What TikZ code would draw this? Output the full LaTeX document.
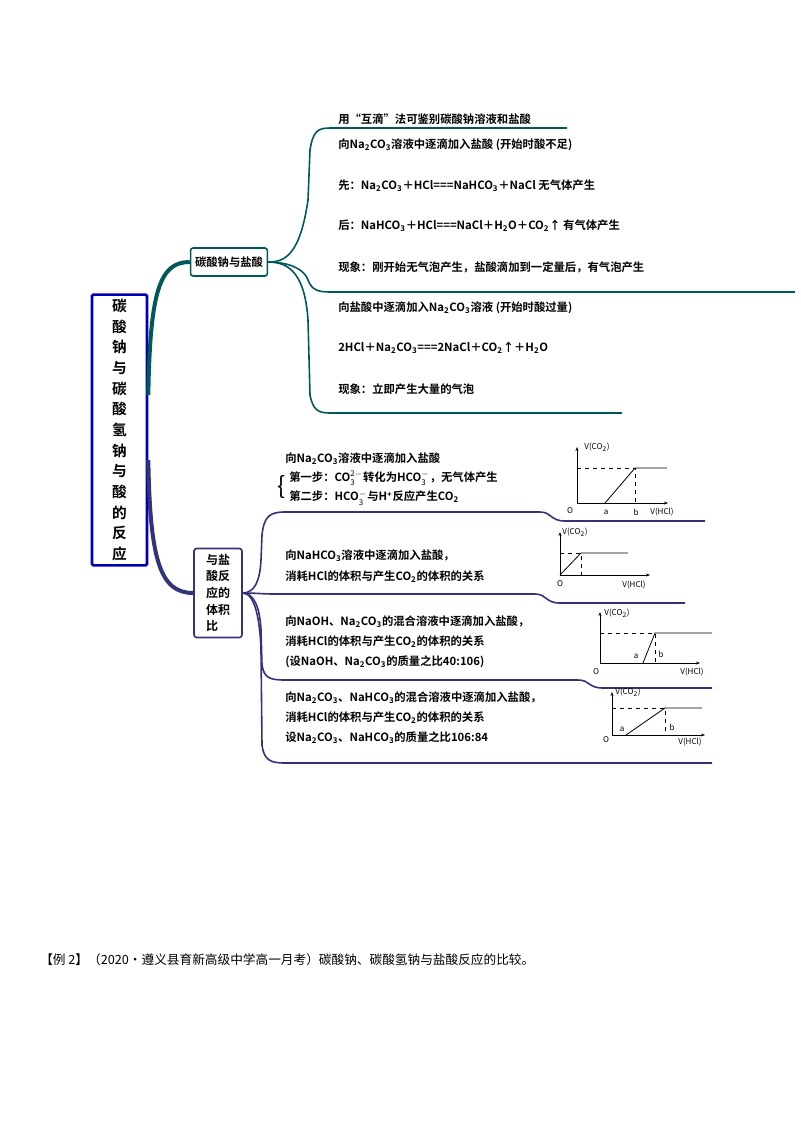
\documentclass[tikz,border=0pt]{standalone}
\usepackage{fontspec}
\setmainfont{Noto Sans CJK SC}[BoldFont={Noto Sans CJK SC Bold}]
\usetikzlibrary{arrows.meta}
\newcommand{\sbt}[1]{\textsubscript{#1}}
\newcommand{\spt}[1]{\textsuperscript{#1}}
\newcommand{\sbsp}[2]{$_{\mathrm{#1}}^{\mathrm{#2}}$}
\begin{document}
\begin{tikzpicture}[x=0.75pt,y=-0.75pt,
 txt/.style={anchor=west,font=\fontsize{8.5}{10}\selectfont\bfseries,inner sep=0pt},
 tl/.style={draw=teal!70!black,line width=1.2pt},
 bl/.style={draw=blue!35!black!80,line width=1.2pt},
 ax/.style={line width=0.6pt,-{Stealth[length=3pt]}},
 dl/.style={dashed,line width=0.5pt},
 gl/.style={font=\fontsize{6}{7}\selectfont\itshape,inner sep=1pt}]
\useasboundingbox (0,0) rectangle (800,1132);
% main box
\node[draw=blue!70!black,line width=2pt,minimum width=55pt*0.75,minimum height=270pt*0.75,rounded corners=1pt,align=center,font=\fontsize{11}{15.5}\selectfont\bfseries] (main) at (119.5,430) {碳\\酸\\钠\\与\\碳\\酸\\氢\\钠\\与\\酸\\的\\反\\应};
\node[draw=teal!70!black,line width=1.2pt,minimum width=70pt*0.75,minimum height=28pt*0.75,rounded corners=2pt,font=\fontsize{8.5}{10}\selectfont\bfseries] (b1) at (229,262) {碳酸钠与盐酸};
\node[draw=blue!35!black!80,line width=1.2pt,minimum width=48pt*0.75,minimum height=89pt*0.75,rounded corners=2pt,align=left,font=\fontsize{9}{12.5}\selectfont\bfseries] (b2) at (218,593) {与盐\\酸反\\应的\\体积\\比};
% connectors from main
\draw[teal!70!black,line width=3pt] (main.east|-0,395) .. controls (150,290) and (160,262) .. (b1.west);
\draw[blue!35!black!80,line width=3pt] (main.east|-0,460) .. controls (150,560) and (160,593) .. (b2.west);
% upper branches
\coordinate (u1) at (567,128);
\coordinate (u2) at (795,292);
\coordinate (u3) at (622,413);
\draw[tl] (b1.east) .. controls (285,262) and (300,255) .. (308,200) -- (310,150) .. controls (313,131) and (318,128) .. (330,128) -- (u1);
\draw[tl] (b1.east) .. controls (290,262) and (305,270) .. (308,280) .. controls (312,290) and (318,292) .. (330,292) -- (u2);
\draw[tl] (b1.east) .. controls (290,262) and (305,275) .. (308,320) -- (310,395) .. controls (313,410) and (318,413) .. (330,413) -- (u3);
\node[txt] (t0) at (338,119) {用“互滴”法可鉴别碳酸钠溶液和盐酸};
\node[txt] (t1) at (338,145) {向Na\sbt{2}CO\sbt{3}溶液中逐滴加入盐酸 (开始时酸不足)};
\node[txt] (t2) at (338,186) {先：Na\sbt{2}CO\sbt{3}＋HCl===NaHCO\sbt{3}＋NaCl 无气体产生};
\node[txt] (t3) at (338,226) {后：NaHCO\sbt{3}＋HCl===NaCl＋H\sbt{2}O＋CO\sbt{2}↑ 有气体产生};
\node[txt] (t4) at (338,267) {现象：刚开始无气泡产生，盐酸滴加到一定量后，有气泡产生};
\node[txt] (t5) at (338,308) {向盐酸中逐滴加入Na\sbt{2}CO\sbt{3}溶液 (开始时酸过量)};
\node[txt] (t6) at (338,348) {2HCl＋Na\sbt{2}CO\sbt{3}===2NaCl＋CO\sbt{2}↑＋H\sbt{2}O};
\node[txt] (t7) at (338,389) {现象：立即产生大量的气泡};
% lower branches
\coordinate (l1) at (705,521);
\coordinate (l2) at (685,603);
\coordinate (l3) at (712,688);
\coordinate (l4) at (712,763);
\draw[bl] (b2.east) .. controls (255,593) and (260,580) .. (261,560) -- (262,535) .. controls (264,516) and (270,512) .. (285,512) -- (540,512) .. controls (552,512) and (550,521) .. (565,521) -- (l1);
\draw[bl] (b2.east) .. controls (258,593) and (260,594) .. (275,594) -- (535,594) .. controls (547,594) and (545,603) .. (560,603) -- (l2);
\draw[bl] (b2.east) .. controls (255,593) and (260,610) .. (261,630) -- (262,665) .. controls (264,678) and (270,680) .. (285,680) -- (578,680) .. controls (590,680) and (588,688) .. (603,688) -- (l3);
\draw[bl] (b2.east) .. controls (255,593) and (260,620) .. (261,650) -- (262,745) .. controls (264,760) and (270,763) .. (285,763) -- (l4);
\node[txt] (g1a) at (285,459) {向Na\sbt{2}CO\sbt{3}溶液中逐滴加入盐酸};
\node[font=\fontsize{18}{18}\selectfont,inner sep=0pt] (brace) at (282,487) {\{};
\node[txt] (g1b) at (289,478) {第一步：CO\sbsp{3}{2-}转化为HCO\sbsp{3}{-}，无气体产生};
\node[txt] (g1c) at (289,498) {第二步：HCO\sbsp{3}{-}与H\spt{+}反应产生CO\sbt{2}};
\node[txt] (g2a) at (285,556) {向NaHCO\sbt{3}溶液中逐滴加入盐酸，};
\node[txt] (g2b) at (285,577) {消耗HCl的体积与产生CO\sbt{2}的体积的关系};
\node[txt] (g3a) at (285,622) {向NaOH、Na\sbt{2}CO\sbt{3}的混合溶液中逐滴加入盐酸，};
\node[txt] (g3b) at (285,642) {消耗HCl的体积与产生CO\sbt{2}的体积的关系};
\node[txt] (g3c) at (285,662) {(设NaOH、Na\sbt{2}CO\sbt{3}的质量之比40:106)};
\node[txt] (g4a) at (285,698) {向Na\sbt{2}CO\sbt{3}、NaHCO\sbt{3}的混合溶液中逐滴加入盐酸，};
\node[txt] (g4b) at (285,718) {消耗HCl的体积与产生CO\sbt{2}的体积的关系};
\node[txt] (g4c) at (285,738) {设Na\sbt{2}CO\sbt{3}、NaHCO\sbt{3}的质量之比106:84};
% graph 1
\draw[ax] (577,503) -- (668,503);
\draw[ax] (577,503) -- (577,447);
\draw[dl] (577,468) -- (635,468) -- (635,503);
\draw[line width=0.6pt] (605,503) -- (635,468) -- (667,468);
\node[gl] at (597,447) {V(CO\sbt{2})};
\node[gl] at (570,511) {O};
\node[gl] at (606,512) {a};
\node[gl] at (636,512) {b};
\node[gl] at (662,512) {V(HCl)};
% graph 2
\draw[ax] (560,575) -- (650,575);
\draw[ax] (560,575) -- (560,532);
\draw[dl] (560,553) -- (581,553) -- (581,575);
\draw[line width=0.6pt] (560,575) -- (581,553) -- (628,553);
\node[gl] at (575,532) {V(CO\sbt{2})};
\node[gl] at (560,584) {O};
\node[gl] at (634,585) {V(HCl)};
% graph 3
\draw[ax] (600,663) -- (700,663);
\draw[ax] (600,663) -- (600,612);
\draw[dl] (600,633) -- (655,633) -- (655,663);
\draw[line width=0.6pt] (643,663) -- (655,633) -- (712,633);
\node[gl] at (617,613) {V(CO\sbt{2})};
\node[gl] at (596,672) {O};
\node[gl] at (636,656) {a};
\node[gl] at (661,654) {b};
\node[gl] at (692,672) {V(HCl)};
% graph 4
\draw[ax] (612,735) -- (705,735);
\draw[ax] (612,735) -- (612,692);
\draw[dl] (612,708) -- (665,708) -- (665,735);
\draw[line width=0.6pt] (626,735) -- (665,708) -- (702,708);
\node[gl] at (628,692) {V(CO\sbt{2})};
\node[gl] at (606,740) {O};
\node[gl] at (622,729) {a};
\node[gl] at (672,727) {b};
\node[gl] at (690,742) {V(HCl)};
\node[txt,font=\fontsize{9.5}{11}\selectfont] (ex) at (40,960) {【例 2】（2020·遵义县育新高级中学高一月考）碳酸钠、碳酸氢钠与盐酸反应的比较。};
\end{tikzpicture}
\end{document}
